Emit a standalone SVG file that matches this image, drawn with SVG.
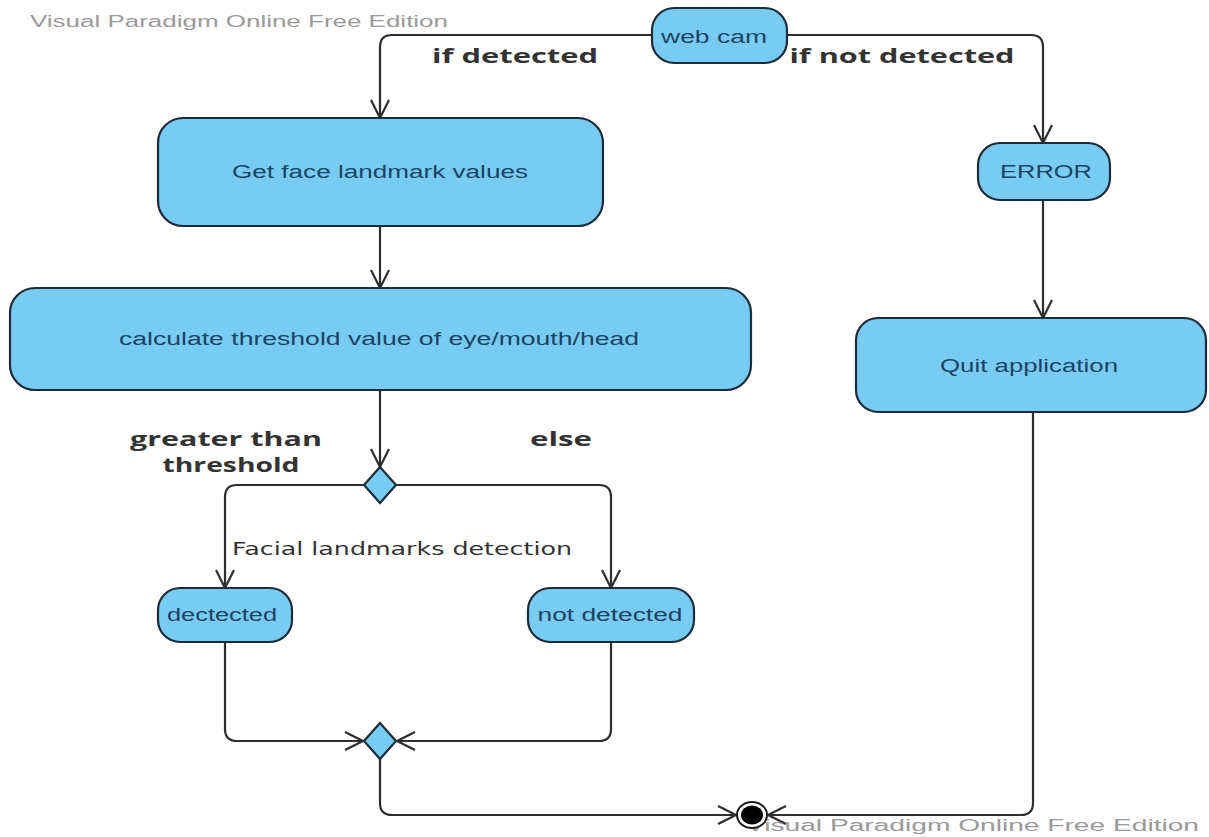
<svg xmlns="http://www.w3.org/2000/svg" width="1209" height="837" viewBox="0 0 1209 837">
<style>
.node{fill:#78CBF2;stroke:#1E2B38;stroke-width:2.2}
.nt{font-family:"Liberation Sans",Arial,sans-serif;font-size:18px;fill:#1B4466;text-anchor:middle}
.lbl{font-family:"Open Sans","DejaVu Sans",sans-serif;font-weight:bold;font-size:19px;fill:#333333;text-anchor:middle}
.flbl{font-family:"DejaVu Sans",sans-serif;font-size:17px;fill:#333333}
.wm{font-family:"Liberation Sans",Arial,sans-serif;font-size:16px;fill:#9A9A9A}
.conn{fill:none;stroke:#2E2E2E;stroke-width:2.2;marker-end:url(#arr)}
</style>
<defs>
<marker id="arr" viewBox="0 0 22 22" refX="20" refY="11" markerWidth="22" markerHeight="22" markerUnits="userSpaceOnUse" orient="auto">
<path d="M2,2 L20,11 L2,20" fill="none" stroke="#2E2E2E" stroke-width="2.2"/>
</marker>
</defs>
<rect width="1209" height="837" fill="#ffffff"/>
<text class="wm" x="30" y="27" textLength="418" lengthAdjust="spacingAndGlyphs">Visual Paradigm Online Free Edition</text>

<g id="connectors">
<path class="conn" d="M652,35 H392 Q380,35 380,47 V118"/>
<path class="conn" d="M787,35 H1031 Q1043,35 1043,47 V143"/>
<path class="conn" d="M1043,200 V318"/>
<path class="conn" d="M1033,412 V803 Q1033,815 1021,815 H768"/>
<path class="conn" d="M380,226 V288"/>
<path class="conn" d="M380,390 V467"/>
<path class="conn" d="M364,485 H237 Q225,485 225,497 V588"/>
<path class="conn" d="M396,485 H599 Q611,485 611,497 V588"/>
<path class="conn" d="M225,642 V729 Q225,741 237,741 H363"/>
<path class="conn" d="M611,642 V729 Q611,741 599,741 H397"/>
<path class="conn" d="M380,759 V803 Q380,815 392,815 H736"/>
</g>

<g id="labels">
<text class="lbl" x="515" y="63" textLength="166" lengthAdjust="spacingAndGlyphs">if detected</text>
<text class="lbl" x="902" y="63" textLength="225" lengthAdjust="spacingAndGlyphs">if not detected</text>
<text class="lbl" x="226" y="446" textLength="192" lengthAdjust="spacingAndGlyphs">greater than</text>
<text class="lbl" x="231" y="472" textLength="137" lengthAdjust="spacingAndGlyphs">threshold</text>
<text class="lbl" x="561" y="446" textLength="62" lengthAdjust="spacingAndGlyphs">else</text>
<text class="flbl" x="232" y="555" textLength="340" lengthAdjust="spacingAndGlyphs">Facial landmarks detection</text>
</g>

<g id="webcam">
<rect class="node" x="652" y="8" width="135" height="55" rx="22"/>
<text class="nt" x="714" y="43" textLength="106" lengthAdjust="spacingAndGlyphs">web cam</text>
</g>
<g id="error">
<rect class="node" x="978" y="143" width="132" height="57" rx="22"/>
<text class="nt" x="1046" y="178" textLength="92" lengthAdjust="spacingAndGlyphs">ERROR</text>
</g>
<g id="quit">
<rect class="node" x="856" y="318" width="350" height="94" rx="22"/>
<text class="nt" x="1029" y="372" textLength="178" lengthAdjust="spacingAndGlyphs">Quit application</text>
</g>
<g id="getface">
<rect class="node" x="158" y="118" width="445" height="108" rx="25"/>
<text class="nt" x="380" y="178" textLength="296" lengthAdjust="spacingAndGlyphs">Get face landmark values</text>
</g>
<g id="calc">
<rect class="node" x="10" y="288" width="741" height="102" rx="25"/>
<text class="nt" x="379" y="345" textLength="520" lengthAdjust="spacingAndGlyphs">calculate threshold value of eye/mouth/head</text>
</g>
<g id="decision1">
<polygon class="node" points="380,467 396,485 380,503 364,485"/>
</g>
<g id="detected">
<rect class="node" x="158" y="588" width="134" height="54" rx="22"/>
<text class="nt" x="222" y="621" textLength="110" lengthAdjust="spacingAndGlyphs">dectected</text>
</g>
<g id="notdetected">
<rect class="node" x="528" y="588" width="166" height="54" rx="22"/>
<text class="nt" x="610" y="621" textLength="145" lengthAdjust="spacingAndGlyphs">not detected</text>
</g>
<g id="merge">
<polygon class="node" points="380,723 396,741 380,759 364,741"/>
</g>
<text class="wm" x="746" y="831" textLength="453" lengthAdjust="spacingAndGlyphs">Visual Paradigm Online Free Edition</text>
<g id="final">
<ellipse cx="752" cy="815" rx="15" ry="13" fill="#ffffff" stroke="#1E1E1E" stroke-width="2"/>
<ellipse cx="752" cy="815" rx="11" ry="9.5" fill="#000000"/>
</g>
</svg>
